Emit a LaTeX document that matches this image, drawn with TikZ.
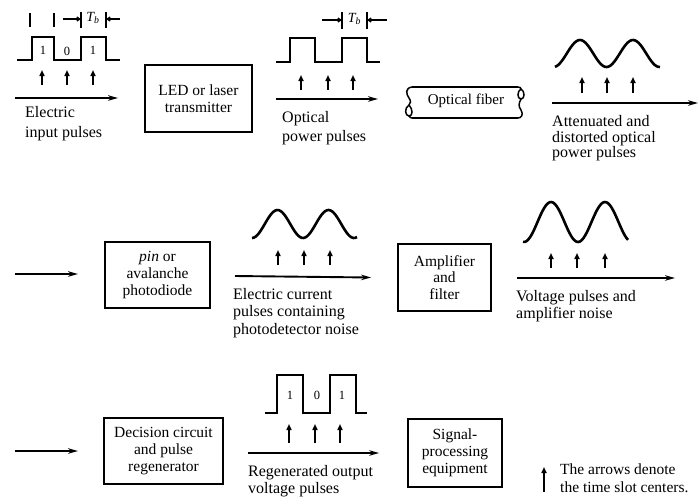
\documentclass[tikz,border=0pt]{standalone}
\usepackage{fontspec}
\setmainfont{Liberation Serif}
\usetikzlibrary{arrows.meta}
\begin{document}
\begin{tikzpicture}[x=1pt,y=-1pt,
  box/.style={draw,line width=1.8pt,inner sep=0pt,align=center,font=\fontsize{15.5}{16.8}\selectfont},
  lbl/.style={anchor=north west,inner sep=0pt,align=left,font=\fontsize{16}{17}\selectfont},
  wave/.style={line width=2.6pt,line join=miter},
  longarr/.style={line width=1.9pt,-{Stealth[length=10pt,width=5.5pt]}},
  uparr/.style={line width=1.6pt,-{Triangle[length=6pt,width=5pt]}},
  tick/.style={line width=1.4pt},
  bit/.style={inner sep=0pt,font=\fontsize{12.5}{13}\selectfont},
  tb/.style={line width=1.3pt,-{Straight Barb[length=3pt,width=4pt]}}]
\path[use as bounding box] (0,0) rectangle (699,499);

% ---------- boxes ----------
\node[box,minimum width=107pt,minimum height=67pt] (led) at (198.5,98.5) {LED or laser\\transmitter};
\node[box,minimum width=105pt,minimum height=66pt] (pin) at (157.5,275) {\textit{pin} or\\avalanche\\photodiode};
\node[box,minimum width=93pt,minimum height=67pt] (amp) at (444.5,277.5) {Amplifier\\and\\filter};
\node[box,minimum width=119pt,minimum height=66pt] (dec) at (163.5,451) {Decision circuit\\and pulse\\regenerator};
\node[box,minimum width=94pt,minimum height=68pt] (sig) at (455,453) {Signal-\\processing\\equipment};

% ---------- optical fiber ----------
\node[inner sep=0pt,font=\fontsize{15}{16}\selectfont] (fib) at (466,101) {Optical fiber};
\draw[line width=1.6pt] (412,87) -- (518,87);
\draw[line width=1.6pt] (412,118) -- (518,118);
\draw[line width=1.5pt] (412,87) .. controls (405,88) and (406,94) .. (409,98) .. controls (411,101) and (411,103) .. (409,105)
  .. controls (404,108) and (405,116) .. (409,116) .. controls (413,116) and (413,109) .. (409,105);
\draw[line width=1.5pt] (409,116) .. controls (410,117.5) and (411,118) .. (412,118);
\draw[line width=1.5pt] (518,87) .. controls (520,87) and (521,88) .. (521,89)
  .. controls (517,91) and (517,99) .. (521,99) .. controls (525,99) and (525,91) .. (521,89);
\draw[line width=1.5pt] (521,99) .. controls (519,103) and (518,106) .. (521,110) .. controls (524,115) and (521,118) .. (518,118);

% ---------- coordinates for connectors ----------
\coordinate (in0) at (15,98);    \coordinate (in1) at (118,98);
\coordinate (op0) at (276,99);   \coordinate (op1) at (378,99);
\coordinate (at0) at (552,103);  \coordinate (at1) at (698,103);
\coordinate (r2a) at (15,274);   \coordinate (r2b) at (78,274);
\coordinate (ec0) at (235,276);
\coordinate (vp0) at (517,278);  \coordinate (vp1) at (675,278);
\coordinate (r3a) at (15,451);   \coordinate (r3b) at (78,451);
\coordinate (rg0) at (248,453);

% ---------- connectors ----------
\draw[longarr] (in0) -- (in1);
\draw[longarr] (op0) -- (op1);
\draw[longarr] (at0) -- (at1);
\draw[longarr] (r2a) -- (r2b);
\draw[longarr] (ec0) -- ([xshift=-26pt]amp.west);
\draw[longarr] (vp0) -- (vp1);
\draw[longarr] (r3a) -- (r3b);
\draw[longarr] (rg0) -- ([xshift=-28pt]sig.west);

% ---------- row 1: electric input pulses ----------
\draw[wave] (17,60) -- (32,60) -- (32,37) -- (54,37) -- (54,60) -- (81,60) -- (81,37) -- (106,37) -- (106,60) -- (120,60);
\node[bit] at (43,50) {1};
\node[bit] at (67,51) {0};
\node[bit] at (93,50) {1};
\draw[tick] (30,13) -- (30,27);
\draw[tick] (54,13) -- (54,27);
\draw[tick] (81,12) -- (81,28);
\draw[tick] (106,12) -- (106,28);
\draw[tb] (63,19) -- (81,19);
\draw[tb] (120,19) -- (106,19);
\node[inner sep=0pt,font=\fontsize{14}{15}\selectfont\itshape] at (93,18) {T\textsubscript{b}};
\foreach \x in {42,67,93} \draw[uparr] (\x,85) -- (\x,70);
\node[lbl,font=\fontsize{16}{20}\selectfont] at (25,106) {Electric\\input pulses};

% ---------- optical power pulses ----------
\draw[wave] (276,62) -- (290,62) -- (290,38) -- (315,38) -- (315,62) -- (342,62) -- (342,38) -- (367,38) -- (367,62) -- (380,62);
\draw[tick] (342,12) -- (342,29);
\draw[tick] (367,12) -- (367,29);
\draw[tb] (322,20) -- (342,20);
\draw[tb] (387,20) -- (367,20);
\node[inner sep=0pt,font=\fontsize{14}{15}\selectfont\itshape] at (354.5,19) {T\textsubscript{b}};
\foreach \x in {301,328,353} \draw[uparr] (\x,90) -- (\x,75);
\node[lbl,font=\fontsize{16}{19}\selectfont] at (282,111) {Optical\\power pulses};

% ---------- attenuated pulses ----------
\draw[wave,smooth] plot[domain=555:660,samples=60] (\x,{53.5-13.5*cos(360/53*(\x-580))});
\foreach \x in {582,607,633} \draw[uparr] (\x,93) -- (\x,77);
\node[lbl,font=\fontsize{16}{15.8}\selectfont] at (552,115) {Attenuated and\\distorted optical\\power pulses};

% ---------- row 2 ----------
\draw[wave,smooth] plot[domain=252:357,samples=60] (\x,{224-14*cos(360/51*(\x-277.5))});
\foreach \x in {278,304,330} \draw[uparr] (\x,265) -- (\x,250);
\node[lbl,font=\fontsize{16}{17.5}\selectfont] at (233,288) {Electric current\\pulses containing\\photodetector noise};

\draw[wave,smooth] plot[domain=523:628,samples=60] (\x,{222-20*cos(360/54*(\x-551))});
\foreach \x in {551,577,605} \draw[uparr] (\x,268) -- (\x,253);
\node[lbl,font=\fontsize{16}{17}\selectfont] at (516,290) {Voltage pulses and\\amplifier noise};

% ---------- row 3 ----------
\draw[wave] (265,413) -- (277,413) -- (277,375) -- (303,375) -- (303,413) -- (330,413) -- (330,375) -- (356,375) -- (356,413) -- (367,413);
\node[bit] at (290,395) {1};
\node[bit] at (317,395) {0};
\node[bit] at (342,395) {1};
\foreach \x in {289,315,340} \draw[uparr] (\x,443) -- (\x,424);
\node[lbl,font=\fontsize{16}{17}\selectfont] at (248,465) {Regenerated output\\voltage pulses};

% ---------- legend ----------
\draw[uparr] (544,492) -- (544,467);
\node[lbl,font=\fontsize{15.5}{18}\selectfont] at (560,464) {The arrows denote\\the time slot centers.};
\end{tikzpicture}
\end{document}
